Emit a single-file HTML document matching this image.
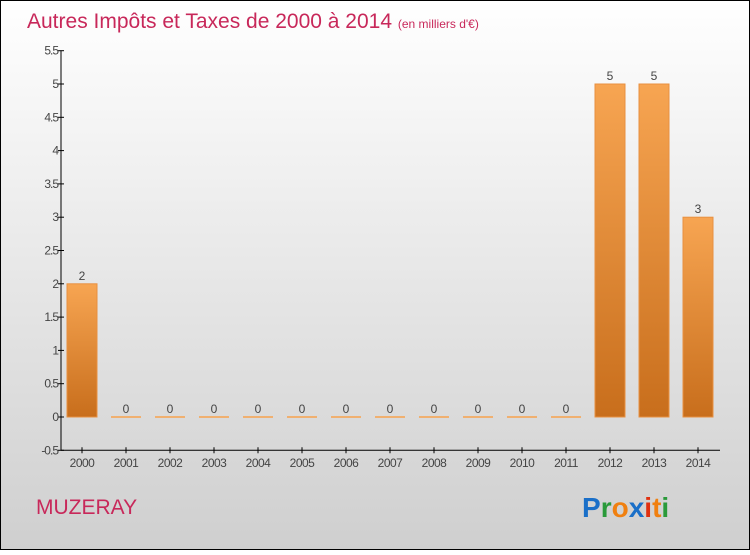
<!DOCTYPE html>
<html><head><meta charset="utf-8"><style>
body{margin:0;width:750px;height:550px;overflow:hidden;font-family:"Liberation Sans",sans-serif}
</style></head><body>
<svg width="750" height="550" viewBox="0 0 750 550">
<defs>
<linearGradient id="bg" x1="0" y1="0" x2="0" y2="1"><stop offset="0" stop-color="#ffffff"/><stop offset="1" stop-color="#cfcfcf"/></linearGradient>
<linearGradient id="bar" x1="0" y1="0" x2="0" y2="1"><stop offset="0" stop-color="#f7a552"/><stop offset="1" stop-color="#c86e1c"/></linearGradient>
</defs>
<rect x="0.5" y="0.5" width="749" height="549" fill="url(#bg)" stroke="#000"/>
<text x="27" y="28" font-size="21" fill="#c8285a">Autres Impôts et Taxes de 2000 à 2014 <tspan font-size="12">(en milliers d'€)</tspan></text>
<g id="axes"></g><g id="bars"></g>
<text x="36" y="514" font-size="21" fill="#c8285a">MUZERAY</text>
<g font-size="28" font-weight="bold">
<text x="582" y="517"><tspan fill="#1a6fc8">P</tspan><tspan fill="#2a9a3a">r</tspan><tspan fill="#f08010">o</tspan><tspan fill="#1a6fc8">x</tspan><tspan fill="#e03010">i</tspan><tspan fill="#f08010">t</tspan><tspan fill="#2a9a3a">i</tspan></text>
</g>
</svg>
<script>
const years=["2000","2001","2002","2003","2004","2005","2006","2007","2008","2009","2010","2011","2012","2013","2014"];
const values=[2,0,0,0,0,0,0,0,0,0,0,0,5,5,3];
const yTicks=[-0.5,0,0.5,1,1.5,2,2.5,3,3.5,4,4.5,5,5.5];
const NS="http://www.w3.org/2000/svg";
const y=v=>417-v*66.6;
const x=i=>82+i*44;
const ax=document.getElementById('axes'),bg=document.getElementById('bars');
function mk(t,a,p){const e=document.createElementNS(NS,t);for(const k in a)e.setAttribute(k,a[k]);p.appendChild(e);return e;}
let l=mk('line',{x1:61,y1:y(5.5),x2:61,y2:y(-0.5),stroke:'#000'},ax);


l=mk('line',{x1:61,y1:y(-0.5),x2:720,y2:y(-0.5),stroke:'#000'},ax);


yTicks.forEach(v=>{
 mk('line',{x1:58,x2:64,y1:y(v),y2:y(v),stroke:'#000'},ax);
 const t=mk('text',{x:58,y:y(v)+4,'text-anchor':'end','font-size':12,fill:'#444','letter-spacing':'-1'},ax);
 t.textContent=String(v);
 
 
});
years.forEach((yr,i)=>{
 mk('line',{x1:x(i),x2:x(i),y1:y(-0.5)-3,y2:y(-0.5)+3,stroke:'#000'},ax);
 const t=mk('text',{x:x(i),y:467,'text-anchor':'middle','font-size':12,fill:'#444','letter-spacing':'-0.5'},ax);
 t.textContent=yr;
 
 
 const v=values[i];
 let r;
 if(v===0){r=mk('rect',{x:x(i)-15,y:y(0)-1,width:30,height:2,fill:'#f0b070'},bg);}
 else{r=mk('rect',{x:x(i)-15,y:y(v),width:30,height:y(0)-y(v),fill:'url(#bar)',stroke:'#e89040','stroke-width':1},bg);}
 
 
 const vl=mk('text',{x:x(i),y:y(v)-4,'text-anchor':'middle','font-size':12,fill:'#444'},bg);
 vl.textContent=String(v);
 
 
});
</script>
</body></html>
